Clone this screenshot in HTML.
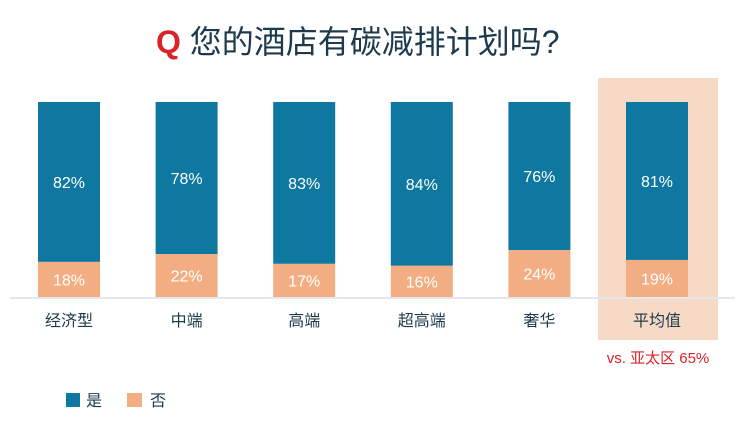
<!DOCTYPE html>
<html><head><meta charset="utf-8"><style>
body{margin:0;background:#fff;width:744px;height:435px;overflow:hidden;font-family:"Liberation Sans","Noto Sans CJK SC",sans-serif;}
</style></head><body>
<svg width="744" height="435">
<text x="156" y="53" font-size="32" fill="#1c3a4c" font-family="Liberation Sans, Noto Sans CJK SC, sans-serif"><tspan fill="#d8232a" font-weight="bold">Q</tspan> 您的酒店有碳减排计划吗?</text>
<rect x="598" y="78" width="120" height="262" fill="#f6dac6"/>
<line x1="10" y1="298" x2="735" y2="298" stroke="#e6e6ee" stroke-width="2"/>
<g id="bars"></g>
<text x="658" y="363" text-anchor="middle" font-size="15" fill="#d8232a">vs. 亚太区 65%</text>
<rect x="66" y="393" width="14" height="14" fill="#0f78a0"/>
<text x="86" y="406" font-size="16" fill="#1c3a4c">是</text>
<rect x="127" y="393" width="15" height="14" fill="#f2ae82"/>
<text x="150" y="406" font-size="16" fill="#1c3a4c">否</text>
</svg>
<script>
const categories=["经济型","中端","高端","超高端","奢华","平均值"];
const yesValues=[82,78,83,84,76,81];
const noValues=[18,22,17,16,24,19];
const x0=69,step=117.6,bw=62,base=297,barTop=102;
const h=(base-barTop)/100;
const g=document.getElementById('bars');
const NS="http://www.w3.org/2000/svg";
categories.forEach((c,i)=>{
 const cx=x0+i*step;
 const noH=noValues[i]*h, yesH=yesValues[i]*h;
 const r1=document.createElementNS(NS,'rect');
 r1.setAttribute('x',cx-bw/2);r1.setAttribute('y',base-noH-yesH);r1.setAttribute('width',bw);r1.setAttribute('height',yesH);r1.setAttribute('fill','#0f78a0');
 
 
 g.appendChild(r1);
 const r2=document.createElementNS(NS,'rect');
 r2.setAttribute('x',cx-bw/2);r2.setAttribute('y',base-noH);r2.setAttribute('width',bw);r2.setAttribute('height',noH);r2.setAttribute('fill','#f2ae82');
 
 
 g.appendChild(r2);
 const t1=document.createElementNS(NS,'text');
 t1.setAttribute('x',cx);t1.setAttribute('y',base-noH-yesH/2+6);t1.setAttribute('text-anchor','middle');t1.setAttribute('font-size','16');t1.setAttribute('fill','#fff');
 t1.textContent=yesValues[i]+'%';
 
 
 g.appendChild(t1);
 const t2=document.createElementNS(NS,'text');
 t2.setAttribute('x',cx);t2.setAttribute('y',base-noH/2+6);t2.setAttribute('text-anchor','middle');t2.setAttribute('font-size','16');t2.setAttribute('fill','#fff');
 t2.textContent=noValues[i]+'%';
 
 
 g.appendChild(t2);
 const t3=document.createElementNS(NS,'text');
 t3.setAttribute('x',cx);t3.setAttribute('y',326);t3.setAttribute('text-anchor','middle');t3.setAttribute('font-size','16');t3.setAttribute('fill','#1c3a4c');
 t3.textContent=c;
 
 
 g.appendChild(t3);
});
</script>
</body></html>
